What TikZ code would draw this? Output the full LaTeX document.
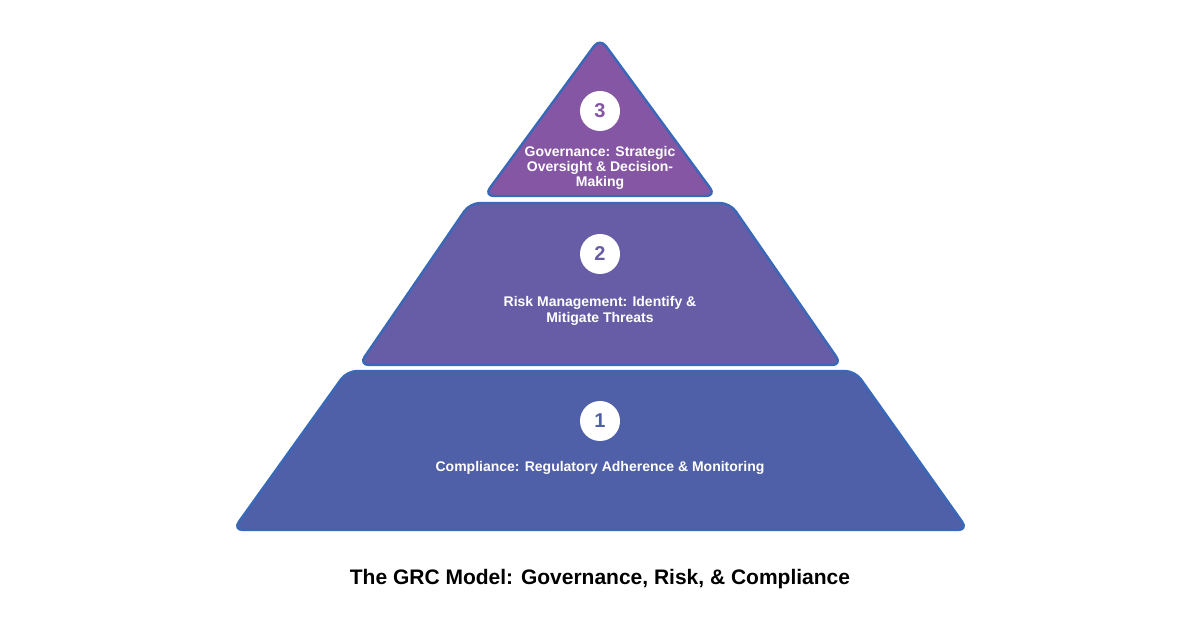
\documentclass[tikz,border=0pt]{standalone}
\usepackage{fontspec}
\setmainfont{Liberation Sans}
\begin{document}
\begin{tikzpicture}[x=0.5pt,y=-0.5pt,
  tier/.style={draw=edgeblue,line width=1.2pt,rounded corners=5pt,line join=round},
  num/.style={circle,fill=white,minimum size=20pt,inner sep=0pt,font=\bfseries\fontsize{10}{10}\selectfont},
  lbl/.style={text=white,font=\bfseries\fontsize{7}{7.6}\selectfont,align=center}]
\definecolor{edgeblue}{HTML}{3A68B8}
\definecolor{topc}{HTML}{8556A3}
\definecolor{midc}{HTML}{675DA6}
\definecolor{botc}{HTML}{4F5FA8}
\useasboundingbox (0,0) rectangle (1200,630);
\fill[white] (0,0) rectangle (1200,630);
\draw[tier,fill=botc] (347,371) -- (855,371) -- (968,530) -- (233,530) -- cycle;
\draw[tier,fill=midc] (470,203) -- (730,203) -- (842,365) -- (359,365) -- cycle;
\draw[tier,fill=topc] (600,38) -- (716,196) -- (484,196) -- cycle;
\node[num,text=topc] (n3) at (600,111) {3};
\node[num,text=midc] (n2) at (600,254) {2};
\node[num,text=botc] (n1) at (600,421) {1};
\node[lbl] (t3) at (600,168) {Governance: Strategic\\Oversight \& Decision-\\Making};
\node[lbl] (t2) at (600,311) {Risk Management: Identify \&\\Mitigate Threats};
\node[lbl] (t1) at (600,468) {Compliance: Regulatory Adherence \& Monitoring};
\node[font=\bfseries\fontsize{10.5}{12}\selectfont] (title) at (600,579) {The GRC Model: Governance, Risk, \& Compliance};
\end{tikzpicture}
\end{document}
